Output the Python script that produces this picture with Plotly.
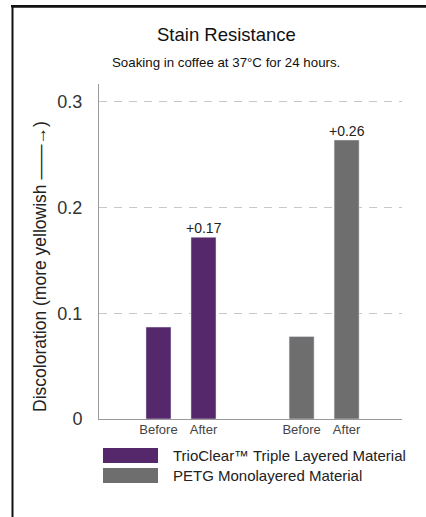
import plotly.graph_objects as go

# ---- data ----
stages = ["Before", "After"]
trio_values = [0.087, 0.172]
petg_values = [0.078, 0.264]
trio_labels = ["", "+0.17"]
petg_labels = ["", "+0.26"]
series_names = ["TrioClear\u2122 Triple Layered Material", "PETG Monolayered Material"]
y_ticks = [0, 0.1, 0.2, 0.3]
y_tick_text = ["0", "0.1", "0.2", "0.3"]

# ---- layout helpers (positions / styles) ----
trio_slots = [0, 1]
petg_slots = [3.18, 4.18]
PURPLE = "#55276b"
GRAY = "#6e6e6e"
FONT = "Liberation Sans"

W, H = 426, 517
L, R, T, B = 99, 402, 84, 419


def px(x):
    return (x - L) / (R - L)


def py(y):
    return (B - y) / (B - T)


fig = go.Figure()
fig.add_trace(go.Bar(x=trio_slots, y=trio_values, width=0.556, marker_color=PURPLE,
                     name="TrioClear", showlegend=False, hoverinfo="skip"))
fig.add_trace(go.Bar(x=petg_slots, y=petg_values, width=0.556, marker_color=GRAY,
                     name="PETG", showlegend=False, hoverinfo="skip"))

shapes = [
    # frame (top and left edges visible, rest runs off the page)
    dict(type="line", xref="paper", yref="paper", x0=px(11.5), x1=px(426), y0=py(6.5), y1=py(6.5),
         line=dict(color="#111", width=2.5), layer="above"),
    dict(type="line", xref="paper", yref="paper", x0=px(12.5), x1=px(12.5), y0=py(5.5), y1=py(517),
         line=dict(color="#111", width=2), layer="above"),
    # legend swatches
    dict(type="rect", xref="paper", yref="paper", x0=px(103), x1=px(158), y0=py(448), y1=py(463),
         fillcolor=PURPLE, line=dict(width=0)),
    dict(type="rect", xref="paper", yref="paper", x0=px(103), x1=px(158), y0=py(468), y1=py(483),
         fillcolor=GRAY, line=dict(width=0)),
]

annotations = [
    dict(text="Stain Resistance", xref="paper", yref="paper", x=px(226), y=py(35),
         xanchor="center", yanchor="middle",
         showarrow=False, font=dict(size=18.5, color="#111", family=FONT)),
    dict(text="Soaking in coffee at 37°C for 24 hours.", xref="paper", yref="paper",
         x=px(226), y=py(62), xanchor="center", yanchor="middle",
         showarrow=False, font=dict(size=13.3, color="#111", family=FONT)),
    dict(text="Discoloration (more yellowish \u2014\u2014\u2192)", xref="paper", yref="paper",
         x=px(40), y=py(267), xanchor="center", yanchor="middle", textangle=-90, showarrow=False,
         font=dict(size=17.5, color="#222", family=FONT)),
    dict(text=series_names[0], xref="paper", yref="paper", x=px(171), y=py(455.5),
         xanchor="left", yanchor="middle", showarrow=False,
         font=dict(size=15, color="#222", family=FONT)),
    dict(text=series_names[1], xref="paper", yref="paper", x=px(171), y=py(475.5),
         xanchor="left", yanchor="middle", showarrow=False,
         font=dict(size=15, color="#222", family=FONT)),
]

# value labels above bars, placed through the data axes
for slots, vals, labels in ((trio_slots, trio_values, trio_labels),
                            (petg_slots, petg_values, petg_labels)):
    for xs, v, lbl in zip(slots, vals, labels):
        if lbl:
            annotations.append(dict(text=lbl, x=xs, y=v, xref="x", yref="y",
                                    xanchor="center", yanchor="bottom", yshift=-1,
                                    showarrow=False,
                                    font=dict(size=14, color="#222", family=FONT)))

fig.update_layout(
    width=W, height=H,
    margin=dict(l=L, r=W - R, t=T, b=H - B),
    paper_bgcolor="white", plot_bgcolor="white",
    font=dict(family=FONT, color="#222"),
    shapes=shapes, annotations=annotations,
    showlegend=False,
    bargap=0,
)
fig.update_xaxes(
    range=[-1.322, 5.411],
    tickvals=trio_slots + petg_slots,
    ticktext=stages + stages,
    tickfont=dict(size=13, color="#444", family=FONT),
    showgrid=False, zeroline=False,
    showline=True, linecolor="#999", linewidth=1,
    ticks="", fixedrange=True, ticklabelstandoff=-2,
)
fig.update_yaxes(
    range=[0, 0.317],
    tickvals=y_ticks, ticktext=y_tick_text,
    tickfont=dict(size=18, color="#333", family=FONT),
    showgrid=True, gridcolor="#c8c8c8", griddash="8px,7px", gridwidth=1,
    zeroline=False,
    showline=True, linecolor="#999", linewidth=1,
    ticks="", ticklabelstandoff=12, fixedrange=True,
)

post = (
    "document.body.style.margin='0px';"
    "var d=document.createElement('div');"
    "d.style.cssText='position:absolute;left:11px;top:5px;width:415px;height:2px;"
    "background:#111;z-index:10;pointer-events:none';"
    "document.body.appendChild(d);"
)
fig.write_html("out.html", config={"displayModeBar": False, "staticPlot": True},
               post_script=post)
